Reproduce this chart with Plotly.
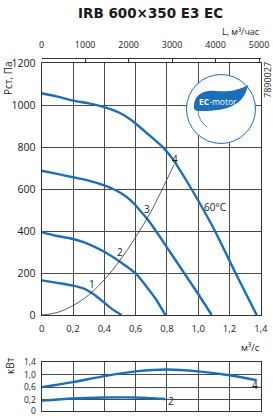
import plotly.graph_objects as go

# ---------------- data ----------------
# fan curves: flow (m3/s) vs static pressure (Pa)
c1_q = [0, 0.1, 0.2, 0.27, 0.33, 0.39, 0.45, 0.51]
c1_p = [165, 153, 140, 126, 100, 65, 28, 0]
c2_q = [0, 0.1, 0.2, 0.3, 0.4, 0.5, 0.6, 0.67, 0.73, 0.79]
c2_p = [395, 376, 362, 338, 301, 254, 198, 135, 75, 0]
c3_q = [0, 0.1, 0.2, 0.3, 0.4, 0.5, 0.565, 0.62, 0.68, 0.73, 0.82, 0.91, 1.0, 1.086]
c3_p = [687, 672, 656, 640, 617, 583, 548, 505, 452, 400, 300, 200, 100, 0]
c4_q = [0, 0.1, 0.2, 0.3, 0.4, 0.5, 0.565, 0.63, 0.7, 0.777, 0.84, 0.937, 1.01, 1.107, 1.235, 1.374]
c4_p = [1056, 1040, 1021, 1008, 990, 962, 932, 893, 848, 797, 740, 625, 532, 400, 205, 0]
# system (network) curve
sys_q = [0, 0.1, 0.2, 0.3, 0.4, 0.5, 0.6, 0.7, 0.8, 0.845]
sys_p = [0, 12, 45, 95, 168, 260, 370, 495, 645, 715]
# power curves: flow (m3/s) vs kW
pw4_q = [0, 0.2, 0.4, 0.6, 0.8, 1.0, 1.2, 1.374]
pw4_k = [0.6, 0.76, 0.95, 1.10, 1.16, 1.10, 0.98, 0.82]
pw2_q = [0, 0.2, 0.4, 0.6, 0.79]
pw2_k = [0.17, 0.24, 0.27, 0.27, 0.22]

q_ticks = [0, 0.2, 0.4, 0.6, 0.8, 1.0, 1.2, 1.4]
q_ticktext = ["0", "0,2", "0,4", "0,6", "0,8", "1,0", "1,2", "1,4"]
l_ticks = [0, 1000, 2000, 3000, 4000, 5000]
p_ticks = [0, 200, 400, 600, 800, 1000, 1200]
kw_ticks = [-0.16, 0.2, 0.6, 1.0, 1.4]
kw_ticktext = ["0", "0,2", "0,6", "1,0", "1,4"]

W, H = 273, 418
def px(x):
    return x / W
def py(y):
    return 1 - y / H

BLUE = "#1a6fb8"
GRID = "#4a4a4a"
TXT = "#1a1a1a"
FONT = "Open Sans, sans-serif"

fig = go.Figure()
for q, p in [(c1_q, c1_p), (c2_q, c2_p), (c3_q, c3_p), (c4_q, c4_p)]:
    fig.add_trace(go.Scatter(x=q, y=p, mode="lines", line=dict(color=BLUE, width=2.4, shape="spline", smoothing=0.7),
                             xaxis="x", yaxis="y", hoverinfo="skip"))
fig.add_trace(go.Scatter(x=sys_q, y=sys_p, mode="lines", line=dict(color="#333333", width=0.8, shape="spline"),
                         xaxis="x", yaxis="y", hoverinfo="skip"))
for q, k in [(pw4_q, pw4_k), (pw2_q, pw2_k)]:
    fig.add_trace(go.Scatter(x=q, y=k, mode="lines", line=dict(color=BLUE, width=2.4, shape="spline", smoothing=0.8),
                             xaxis="x2", yaxis="y2", hoverinfo="skip"))
fig.add_trace(go.Scatter(x=[0, 5040], y=[None, None], xaxis="x3", yaxis="y", mode="lines", hoverinfo="skip"))

xdom = [px(41.7), px(260.8)]
axcommon = dict(showgrid=True, gridcolor=GRID, gridwidth=1, showline=True, linecolor="#333333",
                linewidth=1.2, mirror=True, zeroline=False, ticks="", automargin=False)

fig.update_layout(
    width=W, height=H, margin=dict(l=0, r=0, t=0, b=0, pad=0, autoexpand=False),
    paper_bgcolor="white", plot_bgcolor="white", showlegend=False,
    font=dict(family=FONT, color=TXT, size=10),
    xaxis=dict(domain=xdom, anchor="y", range=[0, 1.4], tickvals=q_ticks, ticktext=q_ticktext,
               tickfont=dict(size=9.5), ticklabelstandoff=4, **axcommon),
    yaxis=dict(domain=[py(315), py(63)], anchor="x", range=[0, 1200], tickvals=p_ticks,
               tickfont=dict(size=10.5), ticklabelstandoff=3, **axcommon),
    xaxis2=dict(domain=xdom, anchor="y2", range=[0, 1.4], tickvals=q_ticks, showticklabels=False, **axcommon),
    yaxis2=dict(domain=[py(411), py(362)], anchor="x2", range=[-0.16, 1.4], tickvals=kw_ticks,
                ticktext=kw_ticktext, tickfont=dict(size=8.5), ticklabelstandoff=3, **axcommon),
    xaxis3=dict(overlaying="x", side="top", anchor="free", position=py(57.7), range=[0, 1.4 * 3600],
                tickvals=l_ticks, ticks="inside", ticklen=3, tickcolor="#333333", showline=True,
                linecolor="#333333", linewidth=1, showgrid=False, zeroline=False, automargin=False,
                tickfont=dict(size=9), ticklabelstandoff=6),
)

ann = []
def A(text, x, y, **kw):
    d = dict(text=text, x=px(x), y=py(y), xref="paper", yref="paper", showarrow=False,
             xanchor="center", yanchor="middle", font=dict(family=FONT, size=10, color=TXT))
    d.update(kw)
    ann.append(d)

A("<b>IRB 600×350 E3 EC</b>", 150, 13, font=dict(family="DejaVu Sans", size=13.5, color=TXT))
A("L, м³/час", 262, 31, xanchor="right", font=dict(family=FONT, size=9, color=TXT))
A("Pст, Па", 8, 78, textangle=-90, font=dict(family=FONT, size=10, color=TXT))
A("7890027", 267, 80, textangle=-90, font=dict(family=FONT, size=9, color=TXT))
A("м³/с", 262, 347, xanchor="right", font=dict(family=FONT, size=9.5, color=TXT))
A("кВт", 10, 366, textangle=-90, font=dict(family=FONT, size=10, color=TXT))
for t, x, y in [("1", 0.323, 148), ("2", 0.50, 301), ("3", 0.675, 505), ("4", 0.852, 743)]:
    ann.append(dict(text=t, x=x, y=y, xref="x", yref="y", showarrow=False, font=dict(family=FONT, size=10, color=TXT)))
ann.append(dict(text="60°C", x=1.022, y=516, xref="x", yref="y", xanchor="left", showarrow=False,
                font=dict(family=FONT, size=10, color=TXT)))
for t, x, y in [("4", 1.363, 0.668), ("2", 0.826, 0.168)]:
    ann.append(dict(text=t, x=x, y=y, xref="x2", yref="y2", showarrow=False, font=dict(family=FONT, size=10, color=TXT)))
A("<b>EC</b>-motor", 218, 101, font=dict(family=FONT, size=8.5, color="white"))
fig.update_layout(annotations=ann)

cx, cy, r = 221, 109, 34.5
shapes = [dict(type="circle", xref="paper", yref="paper", x0=px(cx - r), x1=px(cx + r), y0=py(cy + r), y1=py(cy - r),
               line=dict(color=BLUE, width=1), fillcolor="white", layer="above")]
def pt(a, b):
    return f"{px(a):.4f},{py(b):.4f}"
leaf = (f"M {pt(194,109)} C {pt(193,95)} {pt(203,90)} {pt(216,91)} "
        f"C {pt(230,92)} {pt(239,90)} {pt(248,85)} C {pt(245,101)} {pt(234,112)} {pt(197,111)} Z")
shapes.append(dict(type="path", xref="paper", yref="paper", path=leaf, fillcolor=BLUE, line=dict(width=0), layer="above"))
stem = f"M {pt(198,110)} Q {pt(198,120)} {pt(207,127)}"
shapes.append(dict(type="path", xref="paper", yref="paper", path=stem, line=dict(color=BLUE, width=0.8), layer="above"))
fig.update_layout(shapes=shapes)

fig.write_html("out.html")
